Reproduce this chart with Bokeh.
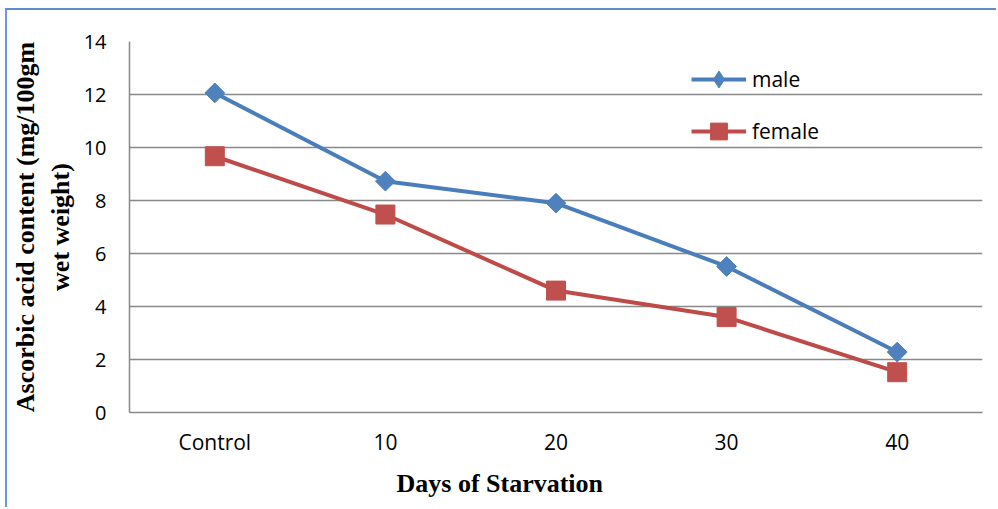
from bokeh.plotting import figure
from bokeh.models import Range1d, FactorRange, FixedTicker, Legend, LegendItem, Title
from bokeh.embed import file_html
from bokeh.resources import INLINE
import math

days = ["Control", "10", "20", "30", "40"]
male = [12.06, 8.73, 7.90, 5.51, 2.28]
female = [9.67, 7.47, 4.60, 3.60, 1.52]
y_ticks = [0, 2, 4, 6, 8, 10, 12, 14]

blue_line = "#4A7EBB"
blue_mark = "#4F81BD"
red_line = "#BE4B48"
red_mark = "#C0504D"
grid_col = "#898989"

p = figure(width=991, height=499,
           x_range=FactorRange(factors=days, range_padding=0),
           y_range=Range1d(0, 14),
           output_backend="svg", toolbar_location=None,
           min_border_left=121, min_border_right=16,
           min_border_top=31, min_border_bottom=97)
p.styles = {"margin-left": "5px", "margin-top": "8px",
            "border-top": "2px solid #5B8BD0",
            "border-left": "2px solid #6A9BD8"}
p.outline_line_color = None
p.background_fill_color = "white"
p.border_fill_color = "white"

p.xgrid.grid_line_color = None
p.ygrid.ticker = FixedTicker(ticks=y_ticks)
p.ygrid.grid_line_color = grid_col
p.ygrid.grid_line_width = 1.5

p.yaxis.ticker = FixedTicker(ticks=y_ticks)
for ax in (p.xaxis[0], p.yaxis[0]):
    ax.axis_line_color = grid_col
    ax.axis_line_width = 1.5
    ax.major_tick_line_color = None
    ax.minor_tick_line_color = None
    ax.major_tick_out = 0
    ax.major_tick_in = 0
    ax.major_label_text_font = "Open Sans"
    ax.major_label_text_color = "black"
    ax.axis_label_text_font = "Liberation Serif"
    ax.axis_label_text_font_style = "bold"
    ax.axis_label_text_font_size = "26px"
    ax.axis_label_text_color = "black"

p.yaxis.major_label_text_font_size = "20px"
p.xaxis.major_label_text_font_size = "21px"
p.yaxis.major_label_standoff = 23
p.xaxis.major_label_standoff = 15
p.yaxis.axis_label = "Ascorbic acid content (mg/100gm\nwet weight)"
p.yaxis.axis_label_standoff = 6

x_title = Title(text="Days of Starvation", align="left", offset=267,
                text_font="Liberation Serif", text_font_style="bold",
                text_font_size="26px", text_color="black", standoff=16)
p.add_layout(x_title, "below")

ml = p.line(days, male, line_color=blue_line, line_width=4)
ms = p.scatter(days, male, marker="square", angle=math.pi / 4, size=14,
               fill_color=blue_mark, line_color=blue_mark)
fl = p.line(days, female, line_color=red_line, line_width=4)
fs = p.scatter(days, female, marker="square", size=19,
               fill_color=red_mark, line_color=red_mark)
# legend-only diamond (no drawable points)
nan_vals = [float("nan")] * len(days)
md = p.scatter(days, nan_vals, marker="diamond", size=17,
               fill_color=blue_mark, line_color=blue_mark)

legend = Legend(items=[LegendItem(label="male", renderers=[ml, md]),
                       LegendItem(label="female", renderers=[fl, fs])],
                location=(562, 260))
legend.background_fill_alpha = 0
legend.border_line_color = None
legend.padding = 0
legend.margin = 0
legend.glyph_width = 55
legend.glyph_height = 42
legend.label_height = 42
legend.spacing = 10
legend.label_standoff = 6
legend.label_text_font = "Open Sans"
legend.label_text_font_size = "21px"
legend.label_text_color = "black"
p.add_layout(legend)

open("out.html", "w").write(file_html(p, INLINE))
